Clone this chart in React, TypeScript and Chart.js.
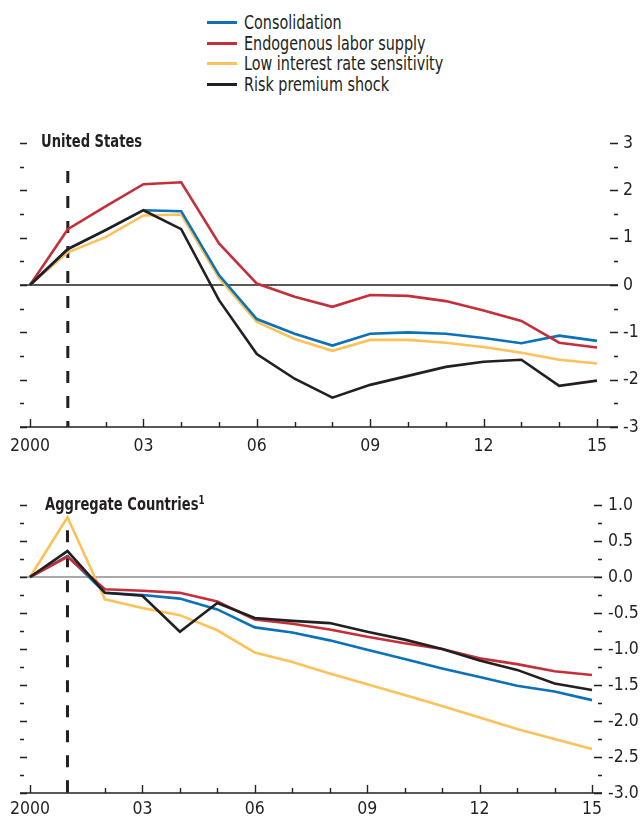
import React, { useEffect, useRef } from 'react';
import { Chart, registerables } from 'chart.js';

Chart.register(...registerables);

// ---------- data ----------
const years = [2000, 2001, 2002, 2003, 2004, 2005, 2006, 2007, 2008, 2009, 2010, 2011, 2012, 2013, 2014, 2015];
const xLabelYears = [2000, 2003, 2006, 2009, 2012, 2015];
const markerYear = 2001;

const seriesNames = ['Consolidation', 'Endogenous labor supply', 'Low interest rate sensitivity', 'Risk premium shock'];
const seriesColors = ['#0b72b9', '#c42f3a', '#fdc15a', '#231f20'];

// United States
const usConsolidation = [0, 0.76, 1.16, 1.58, 1.56, 0.21, -0.72, -1.03, -1.28, -1.03, -1.0, -1.03, -1.12, -1.23, -1.07, -1.18];
const usLabor = [0, 1.18, 1.66, 2.13, 2.17, 0.88, 0.03, -0.25, -0.46, -0.21, -0.23, -0.34, -0.54, -0.76, -1.22, -1.32];
const usLowRate = [0, 0.69, 1.01, 1.47, 1.49, 0.15, -0.78, -1.14, -1.39, -1.16, -1.16, -1.22, -1.31, -1.43, -1.58, -1.66];
const usRisk = [0, 0.76, 1.16, 1.58, 1.18, -0.32, -1.46, -1.98, -2.38, -2.11, -1.92, -1.73, -1.62, -1.58, -2.13, -2.02];
const usYTicks = [-3, -2, -1, 0, 1, 2, 3];

// Aggregate Countries
const aggConsolidation = [0, 0.29, -0.22, -0.25, -0.3, -0.45, -0.7, -0.77, -0.88, -1.01, -1.14, -1.27, -1.39, -1.51, -1.59, -1.71];
const aggLabor = [0, 0.28, -0.17, -0.19, -0.22, -0.34, -0.59, -0.65, -0.73, -0.83, -0.92, -1.0, -1.13, -1.21, -1.31, -1.36];
const aggLowRate = [0, 0.83, -0.31, -0.43, -0.53, -0.74, -1.05, -1.18, -1.34, -1.49, -1.64, -1.79, -1.95, -2.11, -2.25, -2.39];
const aggRisk = [0, 0.36, -0.22, -0.26, -0.76, -0.36, -0.57, -0.61, -0.64, -0.76, -0.87, -1.0, -1.16, -1.29, -1.48, -1.57];
const aggYTicks = [-3, -2.5, -2, -1.5, -1, -0.5, 0, 0.5, 1];

const FONT = "'Liberation Sans Narrow', 'DejaVu Sans Condensed', 'Arial Narrow', sans-serif";
const INK = '#231f20';
const TICK_SIZE = 17.5;

const framePlugin = {
  id: 'frame',
  beforeDatasetsDraw(chart: any, _args: any, opts: any) {
    const { ctx, chartArea: a, scales } = chart;
    const x = scales.x;
    const y = scales.y;
    ctx.save();
    // zero line
    ctx.strokeStyle = opts.zeroColor;
    ctx.lineWidth = opts.zeroWidth;
    const y0 = y.getPixelForValue(0);
    ctx.beginPath();
    ctx.moveTo(a.left, y0);
    ctx.lineTo(a.right, y0);
    ctx.stroke();

    // y dashes (both sides, inward)
    ctx.strokeStyle = INK;
    ctx.lineWidth = 1.4;
    const yMin = y.min;
    const yMax = y.max;
    const nSteps = Math.round((yMax - yMin) / opts.yMinorStep);
    for (let i = 0; i <= nSteps; i++) {
      const v = yMin + i * opts.yMinorStep;
      const isMajor = Math.abs(v / opts.yMajorStep - Math.round(v / opts.yMajorStep)) < 1e-6;
      const py = Math.round(y.getPixelForValue(v)) + 0.5;
      const len = isMajor ? 7 : 4;
      ctx.beginPath();
      ctx.moveTo(a.left, py);
      ctx.lineTo(a.left + len, py);
      ctx.moveTo(a.right - len - (isMajor ? 1 : 0), py);
      ctx.lineTo(a.right, py);
      ctx.stroke();
    }

    // x axis line
    ctx.lineWidth = 1.6;
    ctx.beginPath();
    ctx.moveTo(a.left, a.bottom);
    ctx.lineTo(a.right, a.bottom);
    ctx.stroke();

    // x ticks every year, inward
    ctx.lineWidth = 1.4;
    for (const yr of years) {
      const px = Math.round(x.getPixelForValue(yr)) + 0.5;
      const len = xLabelYears.includes(yr) ? 8 : 5;
      ctx.beginPath();
      ctx.moveTo(px, a.bottom);
      ctx.lineTo(px, a.bottom - len);
      ctx.stroke();
    }

    // dashed marker line
    ctx.lineWidth = 3;
    ctx.setLineDash([12, 13]);
    const mx = x.getPixelForValue(markerYear);
    ctx.beginPath();
    ctx.moveTo(mx, y.getPixelForValue(opts.markerTop));
    ctx.lineTo(mx, a.bottom);
    ctx.stroke();
    ctx.restore();
  },
};

type PanelProps = {
  series: number[][];
  yTicks: number[];
  yMajorStep: number;
  yMinorStep: number;
  xMin: number;
  xMax: number;
  padTop: number;
  rightWidth: number;
  rightPad: number;
  xHeight: number;
  xPad: number;
  width: number;
  height: number;
  zeroColor: string;
  zeroWidth: number;
  markerTop: number;
  fmt: (v: number) => string;
};

function Panel(p: PanelProps) {
  const ref = useRef<HTMLCanvasElement | null>(null);
  useEffect(() => {
    if (!ref.current) return;
    const orders = [2, 1, 3, 0];
    const chart = new Chart(ref.current, {
      type: 'line',
      data: {
        datasets: p.series.map((vals, i) => ({
          label: seriesNames[i],
          data: years.map((yr, j) => ({ x: yr, y: vals[j] })),
          borderColor: seriesColors[i],
          backgroundColor: seriesColors[i],
          borderWidth: 2.6,
          pointRadius: 0,
          tension: 0,
          order: orders[i],
          borderJoinStyle: 'miter' as const,
        })),
      },
      options: {
        responsive: false,
        animation: false,
        devicePixelRatio: 1,
        layout: { padding: { top: p.padTop, left: 20, right: 0, bottom: 0 } },
        plugins: {
          legend: { display: false },
          tooltip: { enabled: false },
          frame: {
            zeroColor: p.zeroColor,
            zeroWidth: p.zeroWidth,
            yMajorStep: p.yMajorStep,
            yMinorStep: p.yMinorStep,
            markerTop: p.markerTop,
          },
        } as any,
        scales: {
          x: {
            type: 'linear',
            min: p.xMin,
            max: p.xMax,
            grid: { display: false },
            border: { display: false },
            afterBuildTicks: (s: any) => {
              s.ticks = xLabelYears.map((v) => ({ value: v }));
            },
            afterFit: (s: any) => {
              s.height = p.xHeight;
            },
            ticks: {
              autoSkip: false,
              maxRotation: 0,
              minRotation: 0,
              padding: p.xPad,
              color: INK,
              font: { family: FONT, size: TICK_SIZE },
              callback: (v: any) => (v === 2000 ? '2000' : String(Number(v) % 100).padStart(2, '0')),
            },
          },
          y: {
            type: 'linear',
            position: 'right',
            min: p.yTicks[0],
            max: p.yTicks[p.yTicks.length - 1],
            grid: { display: false, drawTicks: false, tickLength: 0 },
            border: { display: false },
            afterBuildTicks: (s: any) => {
              s.ticks = p.yTicks.map((v) => ({ value: v }));
            },
            afterFit: (s: any) => {
              s.width = p.rightWidth;
            },
            ticks: {
              padding: p.rightPad,
              color: INK,
              font: { family: FONT, size: TICK_SIZE },
              callback: (v: any) => p.fmt(Number(v)),
            },
          },
        },
      },
      plugins: [framePlugin],
    } as any);
    return () => chart.destroy();
  }, []);
  return <canvas ref={ref} width={p.width} height={p.height} style={{ display: 'block' }} />;
}

const squeeze = (k: number) => ({
  display: 'inline-block',
  transform: `scaleX(${k})`,
  transformOrigin: 'left center',
  whiteSpace: 'nowrap' as const,
});

export default function App() {
  return (
    <div style={{ position: 'absolute', left: 0, top: 0, width: 640, height: 816, background: '#fff', overflow: 'hidden', fontFamily: FONT, color: INK }}>
      {/* legend */}
      <div style={{ position: 'absolute', left: 207, top: 12 }}>
        {seriesNames.map((n, i) => (
          <div key={n} style={{ display: 'flex', alignItems: 'center', height: 20.7 }}>
            <span style={{ display: 'inline-block', width: 30, height: 3, background: seriesColors[i], marginRight: 7, flex: 'none' }} />
            <span style={{ ...squeeze(0.84), fontSize: 19, lineHeight: '20.7px' }}>{n}</span>
          </div>
        ))}
      </div>

      <div style={{ position: 'absolute', left: 0, top: 100, width: 640, height: 370 }}>
        <Panel
          series={[usConsolidation, usLabor, usLowRate, usRisk]}
          yTicks={usYTicks}
          yMajorStep={1}
          yMinorStep={0.5}
          xMin={1999.735}
          xMax={2015.556}
          padTop={43}
          rightWidth={22}
          rightPad={5}
          xHeight={43}
          xPad={1}
          width={640}
          height={370}
          zeroColor={INK}
          zeroWidth={1.5}
          markerTop={2.41}
          fmt={(v) => String(v)}
        />
      </div>
      <div style={{ position: 'absolute', left: 41, top: 132, fontSize: 18, lineHeight: '18px', fontWeight: 'bold' }}>
        <span style={squeeze(0.81)}>United States</span>
      </div>

      <div style={{ position: 'absolute', left: 0, top: 470, width: 640, height: 346 }}>
        <Panel
          series={[aggConsolidation, aggLabor, aggLowRate, aggRisk]}
          yTicks={aggYTicks}
          yMajorStep={0.5}
          yMinorStep={0.25}
          xMin={1999.733}
          xMax={2015.267}
          padTop={35}
          rightWidth={38}
          rightPad={6}
          xHeight={23}
          xPad={-2}
          width={640}
          height={346}
          zeroColor={'#555'}
          zeroWidth={1.2}
          markerTop={0.65}
          fmt={(v) => v.toFixed(1)}
        />
      </div>
      <div style={{ position: 'absolute', left: 45, top: 495, fontSize: 18, lineHeight: '18px', fontWeight: 'bold' }}>
        <span style={squeeze(0.81)}>
          Aggregate Countries
          <span style={{ fontSize: 12, position: 'relative', top: -6 }}>1</span>
        </span>
      </div>
    </div>
  );
}
